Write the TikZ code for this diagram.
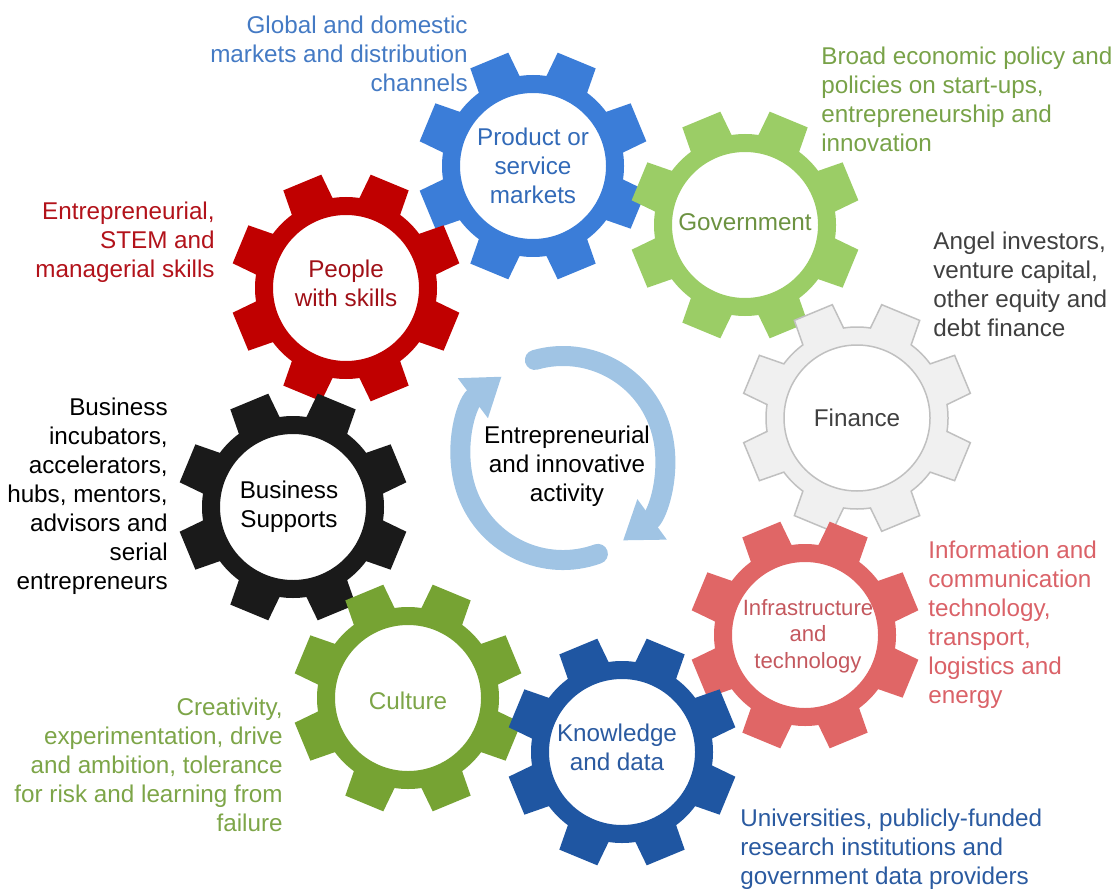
\documentclass[tikz,border=0pt]{standalone}
\usepackage{fontspec}
\setmainfont{Liberation Sans}
\usetikzlibrary{arrows.meta}

\definecolor{gearproduct}{RGB}{59,125,216}
\definecolor{geargov}{RGB}{155,205,102}
\definecolor{gearpeople}{RGB}{192,0,0}
\definecolor{gearfinance}{RGB}{240,240,240}
\definecolor{gearfinanceline}{RGB}{192,192,192}
\definecolor{gearsupport}{RGB}{26,26,26}
\definecolor{gearinfra}{RGB}{224,102,102}
\definecolor{gearculture}{RGB}{118,163,51}
\definecolor{gearknow}{RGB}{31,86,162}
\definecolor{arrowblue}{RGB}{160,196,228}

\definecolor{txtproduct}{RGB}{68,122,196}
\definecolor{txtgov}{RGB}{120,162,72}
\definecolor{txtfinance}{RGB}{64,64,64}
\definecolor{txtpeople}{RGB}{178,18,26}
\definecolor{txtinfra}{RGB}{218,98,104}
\definecolor{txtculture}{RGB}{125,165,72}
\definecolor{txtknow}{RGB}{42,90,160}

\tikzset{
  pics/gear/.style={code={
    \path[#1, even odd rule]
      (0:91) \foreach \i in {0,...,7}{
        arc[start angle=45*\i, end angle=45*\i+8.5, radius=91]
        -- (45*\i+12.3:116) -- (45*\i+32.7:116)
        -- (45*\i+36.5:91)
        arc[start angle=45*\i+36.5, end angle=45*\i+45, radius=91]
      } -- cycle
      (0,0) circle[radius=73];
  }}
}

\begin{document}
\begin{tikzpicture}[x=0.02cm, y=-0.02cm,
  gearlabel/.style = {align=center, inner sep=0pt, font=\fontsize{13.8}{16.5}\selectfont},
  note/.style = {inner sep=0pt, font=\fontsize{13.8}{16.5}\selectfont},
  turnarrow/.style = {draw=arrowblue, line width=0.4cm, line cap=round,
                      -{Triangle[width=0.95cm, length=0.72cm]}}]
\useasboundingbox (0,0) rectangle (1114,888);

% gears
\pic at (533,166) {gear={fill=gearproduct}};
\pic at (745,225) {gear={fill=geargov}};
\pic at (346,288) {gear={fill=gearpeople}};
\pic at (857,418) {gear={fill=gearfinance, draw=gearfinanceline, line width=0.03cm}};
\pic at (293,507) {gear={fill=gearsupport}};
\pic at (805,635) {gear={fill=gearinfra}};
\pic at (408,698) {gear={fill=gearculture}};
\pic at (622,752) {gear={fill=gearknow}};

% gear labels
\node[gearlabel, text=gearproduct!85!black] (product) at (533,166) {Product or\\service\\markets};
\node[gearlabel, text=txtgov!90!black] (gov) at (745,222) {Government};
\node[gearlabel, text=txtpeople!90!black] (people) at (346,283) {People\\with skills};
\node[gearlabel, text=txtfinance] (finance) at (857,418) {Finance};
\node[gearlabel, text=black] (support) at (289,507) {Business\\Supports};
\node[gearlabel, text=txtinfra!90!black, font=\fontsize{12.6}{15.2}\selectfont] (infra) at (808,636) {Infrastructure\\and\\technology};
\node[gearlabel, text=txtculture] (culture) at (408,701) {Culture};
\node[gearlabel, text=txtknow] (know) at (617,747) {Knowledge\\and data};

% centre
\node[gearlabel, text=black] (hub) at (567,466) {Entrepreneurial\\and innovative\\activity};
\draw[turnarrow] (563,458) ++(-106:102) arc[start angle=-106, end angle=54, radius=102];
\draw[turnarrow] (563,458) ++(70:102) arc[start angle=70, end angle=233, radius=102];

% notes
\node[note, align=right, anchor=east, text=txtproduct] (productnote) at (468,54)
  {Global and domestic\\markets and distribution\\channels};
\node[note, align=left, anchor=west, text=txtgov] (govnote) at (821,99)
  {Broad economic policy and\\policies on start-ups,\\entrepreneurship and\\innovation};
\node[note, align=left, anchor=west, text=txtfinance] (financenote) at (933,284)
  {Angel investors,\\venture capital,\\other equity and\\debt finance};
\node[note, align=right, anchor=east, text=txtpeople] (peoplenote) at (215,242)
  {Entrepreneurial,\\STEM and\\managerial skills};
\node[note, align=right, anchor=east, text=black] (supportnote) at (168,496)
  {Business\\incubators,\\accelerators,\\hubs, mentors,\\advisors and\\serial\\entrepreneurs};
\node[note, align=right, anchor=east, text=txtculture] (culturenote) at (283,765)
  {Creativity,\\experimentation, drive\\and ambition, tolerance\\for risk and learning from\\failure};
\node[note, align=left, anchor=west, text=txtinfra] (infranote) at (928,625)
  {Information and\\communication\\technology,\\transport,\\logistics and\\energy};
\node[note, align=left, anchor=west, text=txtknow] (knownote) at (740,849)
  {Universities, publicly-funded\\research institutions and\\government data providers};
\end{tikzpicture}
\end{document}
